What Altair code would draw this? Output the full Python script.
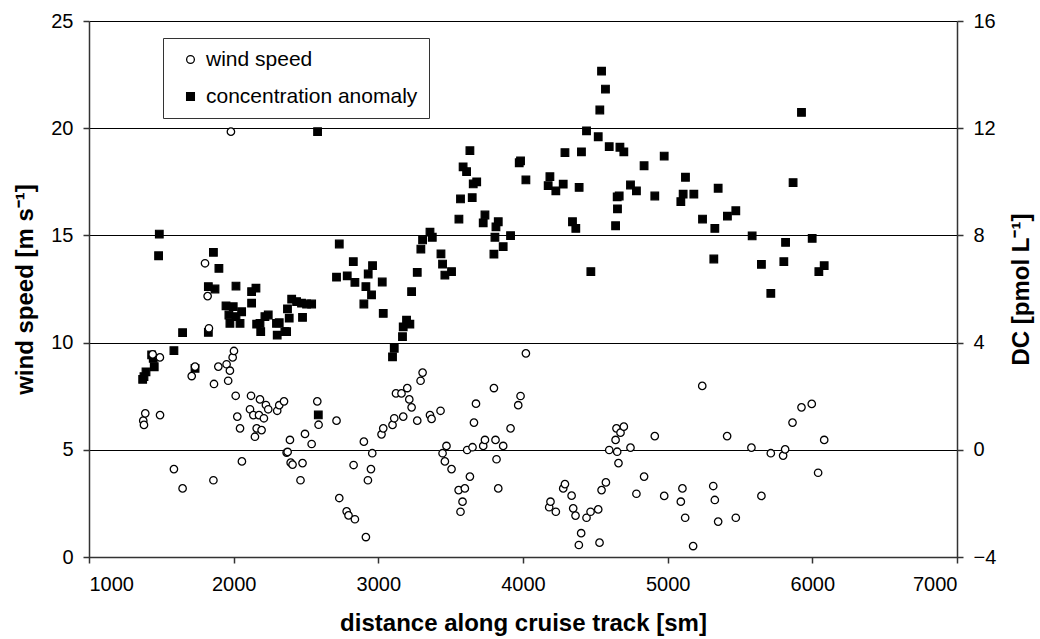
import altair as alt
import pandas as pd

# ---- data ----
wind_x = [1375, 1380, 1389, 1440, 1490, 1491, 1587, 1647, 1710, 1733, 1802, 1820, 1829, 1864, 1860,
          1894, 1951, 1962, 1974, 1981, 1993, 2002, 2014, 2025, 2044, 2057, 2113, 2120, 2136, 2147,
          2159, 2175, 2182, 2193, 2209, 2223, 2239, 2301, 2315, 2348, 2366, 2373, 2389, 2394, 2407,
          2462, 2476, 2493, 2539, 2578, 2587, 2711, 2730, 2781, 2794, 2838, 2829, 2900, 2914, 2928,
          2949, 2958, 3022, 3034, 3098, 3110, 3122, 3160, 3172, 3200, 3214, 3230, 3269, 3292, 3306,
          3357, 3368, 3430, 3444, 3460, 3471, 3506, 3555, 3568, 3582, 3598, 3614, 3633, 3651, 3661,
          3675, 3725, 3737, 3799, 3810, 3817, 3829, 3863, 3914, 3967, 3983, 4020, 4181, 4190, 4227,
          4278, 4290, 4336, 4347, 4363, 4386, 4402, 4439, 4467, 4520, 4529, 4543, 4573, 4596, 4640,
          4646, 4651, 4660, 4674, 4697, 4743, 4784, 4837, 4911, 4976, 5091, 5102, 5121, 5176, 5239,
          5315, 5326, 5349, 5411, 5471, 5579, 5648, 5713, 5798, 5812, 5863, 5925, 5996, 6040, 6082]
wind_v = [6.36, 6.16, 6.70, 9.45, 9.31, 6.62, 4.10, 3.20, 8.44, 8.88, 13.70, 12.17, 10.67, 8.07, 3.58,
          8.88, 8.99, 8.22, 8.69, 19.84, 9.31, 9.61, 7.52, 6.55, 6.00, 4.46, 6.89, 7.52, 6.62, 5.61,
          6.00, 6.62, 7.35, 5.92, 6.47, 7.09, 6.89, 6.82, 7.08, 7.26, 4.87, 4.90, 5.46, 4.40, 4.31,
          3.58, 4.38, 5.74, 5.27, 7.26, 6.17, 6.36, 2.75, 2.13, 1.94, 1.76, 4.29, 5.38, 0.93, 3.58,
          4.10, 4.84, 5.72, 6.00, 6.16, 6.47, 7.63, 7.63, 6.55, 7.88, 7.35, 6.98, 6.36, 8.22, 8.60,
          6.62, 6.44, 6.82, 4.84, 4.46, 5.18, 4.10, 3.12, 2.11, 2.58, 3.20, 4.99, 3.75, 5.12, 6.27,
          7.15, 5.18, 5.46, 7.88, 5.46, 4.56, 3.20, 5.18, 6.00, 7.08, 7.51, 9.50, 2.32, 2.58, 2.11,
          3.20, 3.40, 2.86, 2.27, 1.93, 0.56, 1.11, 1.83, 2.11, 2.22, 0.67, 3.12, 3.48, 4.99, 5.46,
          6.00, 4.91, 4.38, 5.80, 6.08, 5.10, 2.95, 3.75, 5.64, 2.85, 2.58, 3.20, 1.83, 0.51, 7.98,
          3.31, 2.66, 1.65, 5.64, 1.83, 5.10, 2.85, 4.84, 4.73, 5.02, 6.27, 6.98, 7.14, 3.93, 5.46]

dc_x = [1371, 1380, 1394, 1433, 1444, 1451, 1481, 1486, 1587, 1647, 1733, 1825, 1825, 1860, 1871,
        1898, 1947, 1967, 1974, 1997, 2016, 2016, 2044, 2055, 2124, 2124, 2154, 2159, 2182, 2187,
        2216, 2239, 2296, 2301, 2315, 2354, 2366, 2372, 2384, 2401, 2435, 2469, 2476, 2504, 2539,
        2580, 2585, 2711, 2730, 2785, 2827, 2838, 2900, 2914, 2930, 2953, 2960, 3027, 3034, 3098,
        3110, 3167, 3172, 3195, 3218, 3230, 3269, 3294, 3306, 3357, 3373, 3433, 3444, 3460, 3506,
        3557, 3568, 3586, 3610, 3633, 3649, 3656, 3680, 3725, 3737, 3799, 3806, 3813, 3829, 3863,
        3914, 3974, 3983, 4020, 4174, 4186, 4227, 4278, 4290, 4342, 4365, 4388, 4404, 4439, 4469,
        4520, 4531, 4543, 4570, 4596, 4640, 4653, 4651, 4665, 4670, 4697, 4743, 4784, 4837, 4911,
        4976, 5091, 5107, 5123, 5181, 5241, 5319, 5326, 5349, 5413, 5471, 5584, 5648, 5713, 5803,
        5815, 5867, 5925, 5999, 6045, 6082]
dc_v = [2.63, 2.73, 2.91, 3.54, 3.41, 3.10, 7.24, 8.05, 3.70, 4.37, 3.04, 4.38, 6.09, 7.37, 6.00,
        6.77, 5.37, 5.03, 4.72, 5.34, 6.11, 4.97, 4.72, 5.15, 5.90, 5.47, 6.03, 4.69, 4.72, 4.41,
        4.97, 5.03, 4.72, 4.28, 4.74, 4.41, 4.41, 5.26, 4.91, 5.62, 5.53, 5.47, 4.94, 5.44, 5.44,
        11.87, 1.30, 6.44, 7.68, 6.49, 7.02, 6.25, 5.44, 6.09, 6.56, 5.78, 6.87, 6.26, 5.09, 3.47,
        3.79, 4.22, 4.59, 4.84, 4.69, 5.90, 6.62, 7.49, 7.83, 8.12, 7.93, 7.31, 6.93, 6.52, 6.65,
        8.61, 9.36, 10.56, 10.38, 11.16, 9.41, 9.92, 10.00, 8.47, 8.76, 7.30, 7.93, 8.32, 8.51, 7.58,
        7.99, 10.71, 10.78, 10.07, 9.86, 10.19, 9.66, 9.91, 11.09, 8.51, 8.26, 9.79, 11.12, 11.90, 6.65,
        11.68, 12.68, 14.13, 13.46, 11.31, 8.36, 8.99, 9.44, 9.47, 11.29, 11.12, 9.88, 9.66, 10.60, 9.47,
        10.96, 9.26, 9.54, 10.17, 9.54, 8.61, 7.12, 8.26, 9.76, 8.72, 8.92, 7.98, 6.92, 5.84, 7.02,
        7.74, 9.97, 12.59, 7.89, 6.65, 6.87]

series_names = ["wind speed", "concentration anomaly"]
x_ticks = [1000, 2000, 3000, 4000, 5000, 6000, 7000]
left_ticks = [0, 5, 10, 15, 20, 25]
right_ticks = [-4, 0, 4, 8, 12, 16]

wind_df = pd.DataFrame({"distance": wind_x, "value": wind_v, "series": series_names[0]})
dc_df = pd.DataFrame({"distance": dc_x, "value": dc_v, "series": series_names[1]})

FONT = "Liberation Sans"

x_enc = alt.X(
    "distance:Q",
    scale=alt.Scale(domain=[1000, 7000], nice=False, zero=False),
    axis=alt.Axis(values=x_ticks, format="d", grid=False,
                  title="distance along cruise track [sm]",
                  labelPadding=11, titlePadding=17),
)

legend_def = alt.Legend(
    title=None, orient="none", legendX=74, legendY=17,
    strokeColor="#333333", fillColor="white", padding=11,
    symbolOffset=6, labelOffset=5, rowPadding=15, labelLimit=400,
    labelFont=FONT, labelFontSize=21, labelColor="black",
    symbolStrokeColor="black", symbolStrokeWidth=1.3, symbolSize=60,
)

shape_enc = alt.Shape("series:N",
                      scale=alt.Scale(domain=series_names, range=["circle", "square"]),
                      legend=legend_def)
fill_enc = alt.Fill("series:N",
                    scale=alt.Scale(domain=series_names, range=["white", "black"]),
                    legend=legend_def)
stroke_enc = alt.Stroke("series:N",
                        scale=alt.Scale(domain=series_names, range=["black", "black"]),
                        legend=legend_def)

dc_layer = alt.Chart(dc_df).mark_point(
    filled=True, strokeWidth=1.2, size=58, opacity=1
).encode(
    x=x_enc,
    y=alt.Y("value:Q",
            scale=alt.Scale(domain=[-4, 16], nice=False, zero=False),
            axis=alt.Axis(orient="right", values=right_ticks, grid=False,
                          title="DC  [pmol L⁻¹]", titleAngle=270,
                          labelPadding=10, titlePadding=38)),
    shape=shape_enc,
    fill=fill_enc,
    stroke=stroke_enc,
)

wind_layer = alt.Chart(wind_df).mark_point(
    filled=True, strokeWidth=1.3, size=55, opacity=1
).encode(
    x=x_enc,
    y=alt.Y("value:Q",
            scale=alt.Scale(domain=[0, 25], nice=False, zero=False),
            axis=alt.Axis(orient="left", values=left_ticks, grid=True,
                          title="wind speed [m s⁻¹]",
                          labelPadding=10, titlePadding=13)),
    shape=shape_enc,
    fill=fill_enc,
    stroke=stroke_enc,
)

chart = alt.layer(dc_layer, wind_layer).resolve_scale(
    y="independent"
).properties(
    width=868, height=536,
    autosize=alt.AutoSizeParams(type="none"),
    padding={"left": 89, "top": 21, "right": 83, "bottom": 82},
    background="white",
).configure_view(
    stroke=None
).configure_axis(
    labelFont=FONT, labelFontSize=20, labelColor="black",
    titleFont=FONT, titleFontSize=24, titleFontWeight="bold", titleColor="black",
    domainColor="#333333", domainWidth=1.5,
    tickColor="#333333", tickSize=6, tickWidth=1.5,
    gridColor="black", gridWidth=1, gridOpacity=1,
)

chart.save("out.html", embed_options={"renderer": "svg", "actions": False})
